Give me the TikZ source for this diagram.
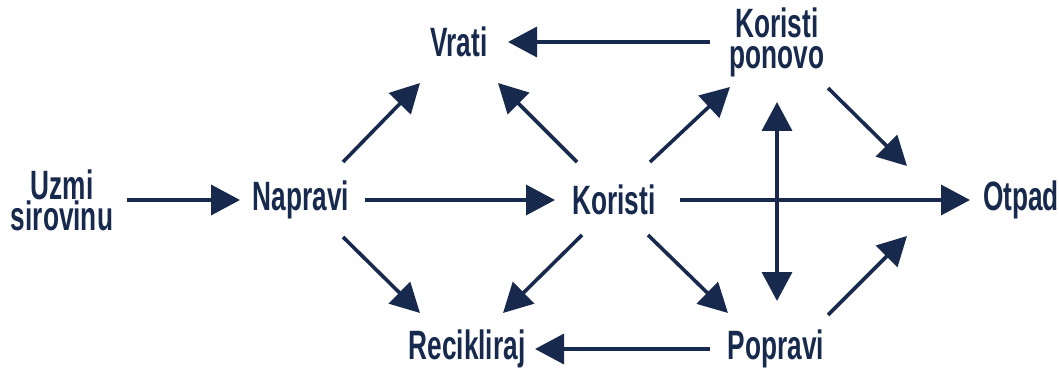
\documentclass[tikz,border=0pt]{standalone}
\usepackage{fontspec}
\newfontfamily\lbl[FakeStretch=0.64]{Liberation Sans}
\usetikzlibrary{arrows.meta,calc}
\definecolor{navy}{HTML}{172A4D}
\begin{document}
\begin{tikzpicture}[x=1pt,y=1pt,
  lab/.style={text=navy,font=\lbl\bfseries\fontsize{41}{31}\selectfont,align=center,inner sep=0pt},
  arr/.style={draw=navy,line width=3.6pt,-{Triangle[length=29pt,width=30pt]}},
  darr/.style={draw=navy,line width=3.6pt,{Triangle[length=29pt,width=30pt]}-{Triangle[length=29pt,width=30pt]}}]
\useasboundingbox (0,0) rectangle (1059,367);
\node[lab] (uzmi) at (62,167) {Uzmi\\sirovinu};
\node[lab] (napravi) at (301,167) {Napravi};
\node[lab] (koristi) at (614,167) {Koristi};
\node[lab] (otpad) at (1021,167) {Otpad};
\node[lab] (vrati) at (459,325) {Vrati};
\node[lab] (kp) at (777,325) {Koristi\\ponovo};
\node[lab] (recikliraj) at (467,18) {Recikliraj};
\node[lab] (popravi) at (776,18) {Popravi};
% horizontal
\draw[arr] ($(uzmi)+(65,0)$) -- ($(napravi)+(-61,0)$);
\draw[arr] ($(napravi)+(64,0)$) -- ($(koristi)+(-59,0)$);
\draw[arr] ($(koristi)+(66,0)$) -- ($(otpad)+(-51,0)$);
\draw[arr] ($(kp)+(-67,0)$) -- ($(vrati)+(49,0)$);
\draw[arr] ($(popravi)+(-66,0)$) -- ($(recikliraj)+(68,0)$);
% diagonals
\draw[arr] ($(napravi)+(42,38)$) -- ($(vrati)+(-39,-41)$);
\draw[arr] ($(napravi)+(42,-37)$) -- ($(recikliraj)+(-47,36)$);
\draw[arr] ($(koristi)+(-37,38)$) -- ($(vrati)+(39,-41)$);
\draw[arr] ($(koristi)+(-32,-35)$) -- ($(recikliraj)+(36,36)$);
\draw[arr] ($(koristi)+(36,38)$) -- ($(kp)+(-47,-45)$);
\draw[arr] ($(koristi)+(34,-35)$) -- ($(popravi)+(-48,36)$);
\draw[arr] ($(kp)+(51,-46)$) -- ($(otpad)+(-114,34)$);
\draw[arr] ($(popravi)+(52,34)$) -- ($(otpad)+(-114,-36)$);
% vertical double
\draw[darr] ($(kp)+(0,-60)$) -- ($(popravi)+(1,48)$);
\end{tikzpicture}
\end{document}
